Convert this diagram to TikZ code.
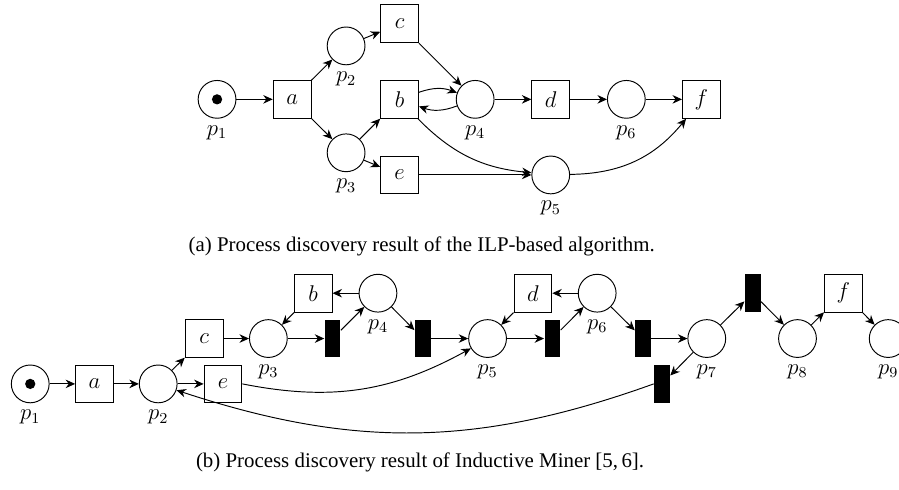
\documentclass[tikz,border=0pt]{standalone}
\usepackage[no-math]{fontspec}
\newfontfamily\captionfont{Liberation Serif}
\usetikzlibrary{arrows.meta}

\tikzset{
	place/.style={draw, circle, minimum size=0.7cm, inner sep=0pt},
	trans/.style={draw, rectangle, minimum size=0.7cm, inner sep=0pt},
	silent/.style={fill=black, rectangle, minimum width=0.29cm, minimum height=0.7cm, inner sep=0pt},
	token/.style={fill=black, circle, minimum size=0.19cm, inner sep=0pt},
	capt/.style={font=\captionfont\fontsize{11}{13}\selectfont}
}

\begin{document}
\begin{tikzpicture}[font=\fontsize{12}{14}\selectfont, line width=0.5pt, >={Stealth[length=5pt,width=4.5pt]}]
			\useasboundingbox (0,0) rectangle (16.65,-9.06);
			% (a) ILP-based net
			\node[place, label=below:$p_1$] (ilp-p1) at (4.02,-1.84) {};
			\node[token] (ilp-tok) at (ilp-p1) {};
			\node[trans] (ilp-a) at (5.41,-1.84) {$a$};
			\node[place, label=below:$p_2$] (ilp-p2) at (6.41,-0.85) {};
			\node[place, label=below:$p_3$] (ilp-p3) at (6.41,-2.83) {};
			\node[trans] (ilp-c) at (7.40,-0.44) {$c$};
			\node[trans] (ilp-b) at (7.40,-1.84) {$b$};
			\node[trans] (ilp-e) at (7.40,-3.24) {$e$};
			\node[place, label=below:$p_4$] (ilp-p4) at (8.80,-1.84) {};
			\node[trans] (ilp-d) at (10.20,-1.84) {$d$};
			\node[place, label=below:$p_5$] (ilp-p5) at (10.20,-3.24) {};
			\node[place, label=below:$p_6$] (ilp-p6) at (11.60,-1.84) {};
			\node[trans] (ilp-f) at (12.99,-1.84) {$f$};
			\draw[->] (ilp-p1) -- (ilp-a);
			\draw[->] (ilp-a) -- (ilp-p2);
			\draw[->] (ilp-a) -- (ilp-p3);
			\draw[->] (ilp-p2) -- (ilp-c);
			\draw[->] (ilp-p3) -- (ilp-b);
			\draw[->] (ilp-p3) -- (ilp-e);
			\draw[->] (ilp-c) -- (ilp-p4);
			\draw[->] (ilp-b) to[bend left=20] (ilp-p4);
			\draw[->] (ilp-p4) to[bend left=20] (ilp-b);
			\draw[->] (ilp-b) to[bend right=20] (ilp-p5);
			\draw[->] (ilp-e) -- (ilp-p5);
			\draw[->] (ilp-p4) -- (ilp-d);
			\draw[->] (ilp-d) -- (ilp-p6);
			\draw[->] (ilp-p6) -- (ilp-f);
			\draw[->] (ilp-p5) to[bend right=25] (ilp-f);
			\node[capt] (cap-a) at (7.81,-4.57) {(a) Process discovery result of the ILP-based algorithm.};
			% (b) Inductive Miner net
			\node[place, label=below:$p_1$] (im-p1) at (0.56,-7.11) {};
			\node[token] (im-tok) at (im-p1) {};
			\node[trans] (im-a) at (1.75,-7.11) {$a$};
			\node[place, label=below:$p_2$] (im-p2) at (2.93,-7.11) {};
			\node[trans] (im-c) at (3.78,-6.27) {$c$};
			\node[trans] (im-e) at (4.13,-7.11) {$e$};
			\node[place, label=below:$p_3$] (im-p3) at (4.97,-6.27) {};
			\node[silent] (im-t1) at (6.16,-6.27) {};
			\node[trans] (im-b) at (5.80,-5.43) {$b$};
			\node[place, label=below:$p_4$] (im-p4) at (7.00,-5.43) {};
			\node[silent] (im-t2) at (7.83,-6.27) {};
			\node[place, label=below:$p_5$] (im-p5) at (9.03,-6.27) {};
			\node[trans] (im-d) at (9.87,-5.43) {$d$};
			\node[silent] (im-t3) at (10.23,-6.27) {};
			\node[place, label=below:$p_6$] (im-p6) at (11.06,-5.43) {};
			\node[silent] (im-t4) at (11.91,-6.27) {};
			\node[place, label=below:$p_7$] (im-p7) at (13.09,-6.27) {};
			\node[silent] (im-t5) at (12.26,-7.11) {};
			\node[silent] (im-t6) at (13.94,-5.43) {};
			\node[place, label=below:$p_8$] (im-p8) at (14.77,-6.27) {};
			\node[trans] (im-f) at (15.62,-5.43) {$f$};
			\node[place, label=below:$p_9$] (im-p9) at (16.45,-6.27) {};
			\draw[->] (im-p1) -- (im-a);
			\draw[->] (im-a) -- (im-p2);
			\draw[->] (im-p2) -- (im-c);
			\draw[->] (im-p2) -- (im-e);
			\draw[->] (im-c) -- (im-p3);
			\draw[->] (im-p3) -- (im-t1);
			\draw[->] (im-t1) -- (im-p4);
			\draw[->] (im-p4) -- (im-b);
			\draw[->] (im-b) -- (im-p3);
			\draw[->] (im-p4) -- (im-t2);
			\draw[->] (im-t2) -- (im-p5);
			\draw[->] (im-e.east) to[bend right=20] (im-p5);
			\draw[->] (im-p5) -- (im-t3);
			\draw[->] (im-t3) -- (im-p6);
			\draw[->] (im-p6) -- (im-d);
			\draw[->] (im-d) -- (im-p5);
			\draw[->] (im-p6) -- (im-t4);
			\draw[->] (im-t4) -- (im-p7);
			\draw[->] (im-p7) -- (im-t5);
			\draw[->] (im-t5.west) to[bend left=19] (im-p2);
			\draw[->] (im-p7) -- (im-t6);
			\draw[->] (im-t6) -- (im-p8);
			\draw[->] (im-p8) -- (im-f);
			\draw[->] (im-f) -- (im-p9);
			\node[capt] (cap-b) at (7.78,-8.56) {(b) Process discovery result of Inductive Miner [5,\,6].};
		\end{tikzpicture}
\end{document}
